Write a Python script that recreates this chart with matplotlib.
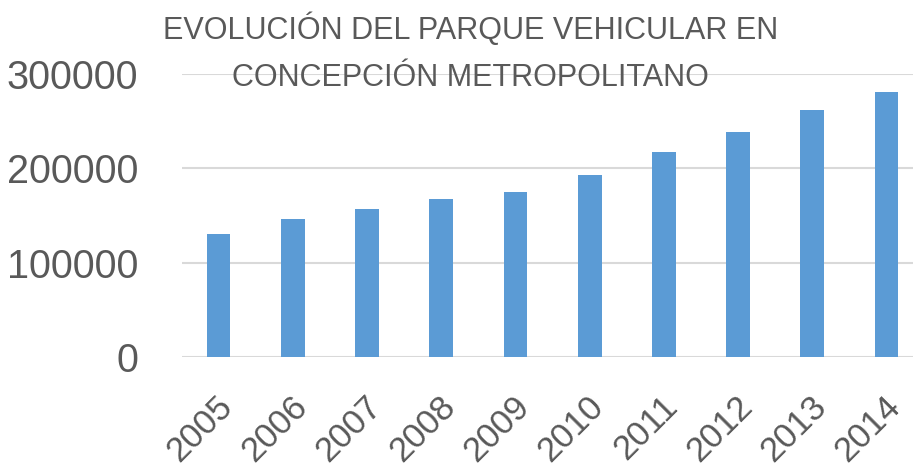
import matplotlib.pyplot as plt
import matplotlib as mpl
from matplotlib.transforms import ScaledTranslation

years = ["2005", "2006", "2007", "2008", "2009", "2010", "2011", "2012", "2013", "2014"]
vehicles = [130000, 146000, 157000, 167500, 175000, 193000, 217800, 239000, 261800, 281200]
y_ticks = [0, 100000, 200000, 300000]

mpl.rcParams['font.family'] = ['Liberation Sans', 'DejaVu Sans']
grey = "#595959"

fig = plt.figure(figsize=(9.13, 4.74), dpi=100)
ax = fig.add_axes([0.1988, 0.2475, 0.8012, 0.5957])

x = list(range(len(years)))
ax.bar(x, vehicles, width=0.32, color="#5B9BD5", zorder=3)

ax.set_ylim(0, 300000)
ax.set_xlim(-0.5, 9.357)
ax.set_yticks(y_ticks)
ax.set_yticklabels([str(v) for v in y_ticks])
ax.yaxis.grid(True, color="#D9D9D9", linewidth=1.5, zorder=0)
ax.set_axisbelow(True)
for s in ["top", "right", "left", "bottom"]:
    ax.spines[s].set_visible(False)
ax.tick_params(axis="y", length=0, pad=31, labelsize=28.5, labelcolor=grey)
ax.tick_params(axis="x", length=0, pad=32, labelsize=25, labelcolor=grey)
ax.set_xticks(x)
ax.set_xticklabels(years, rotation=45, ha="right", va="center", rotation_mode="anchor")
shift = ScaledTranslation(9 / 100, 0, fig.dpi_scale_trans)
for lab in ax.get_xticklabels():
    lab.set_transform(lab.get_transform() + shift)

fig.text(0.515, 0.938, "EVOLUCIÓN DEL PARQUE VEHICULAR EN", ha="center", va="center",
         fontsize=22, color=grey)
fig.text(0.515, 0.836, "CONCEPCIÓN METROPOLITANO", ha="center", va="center",
         fontsize=22, color=grey)

fig.savefig("out.png", dpi=100)
